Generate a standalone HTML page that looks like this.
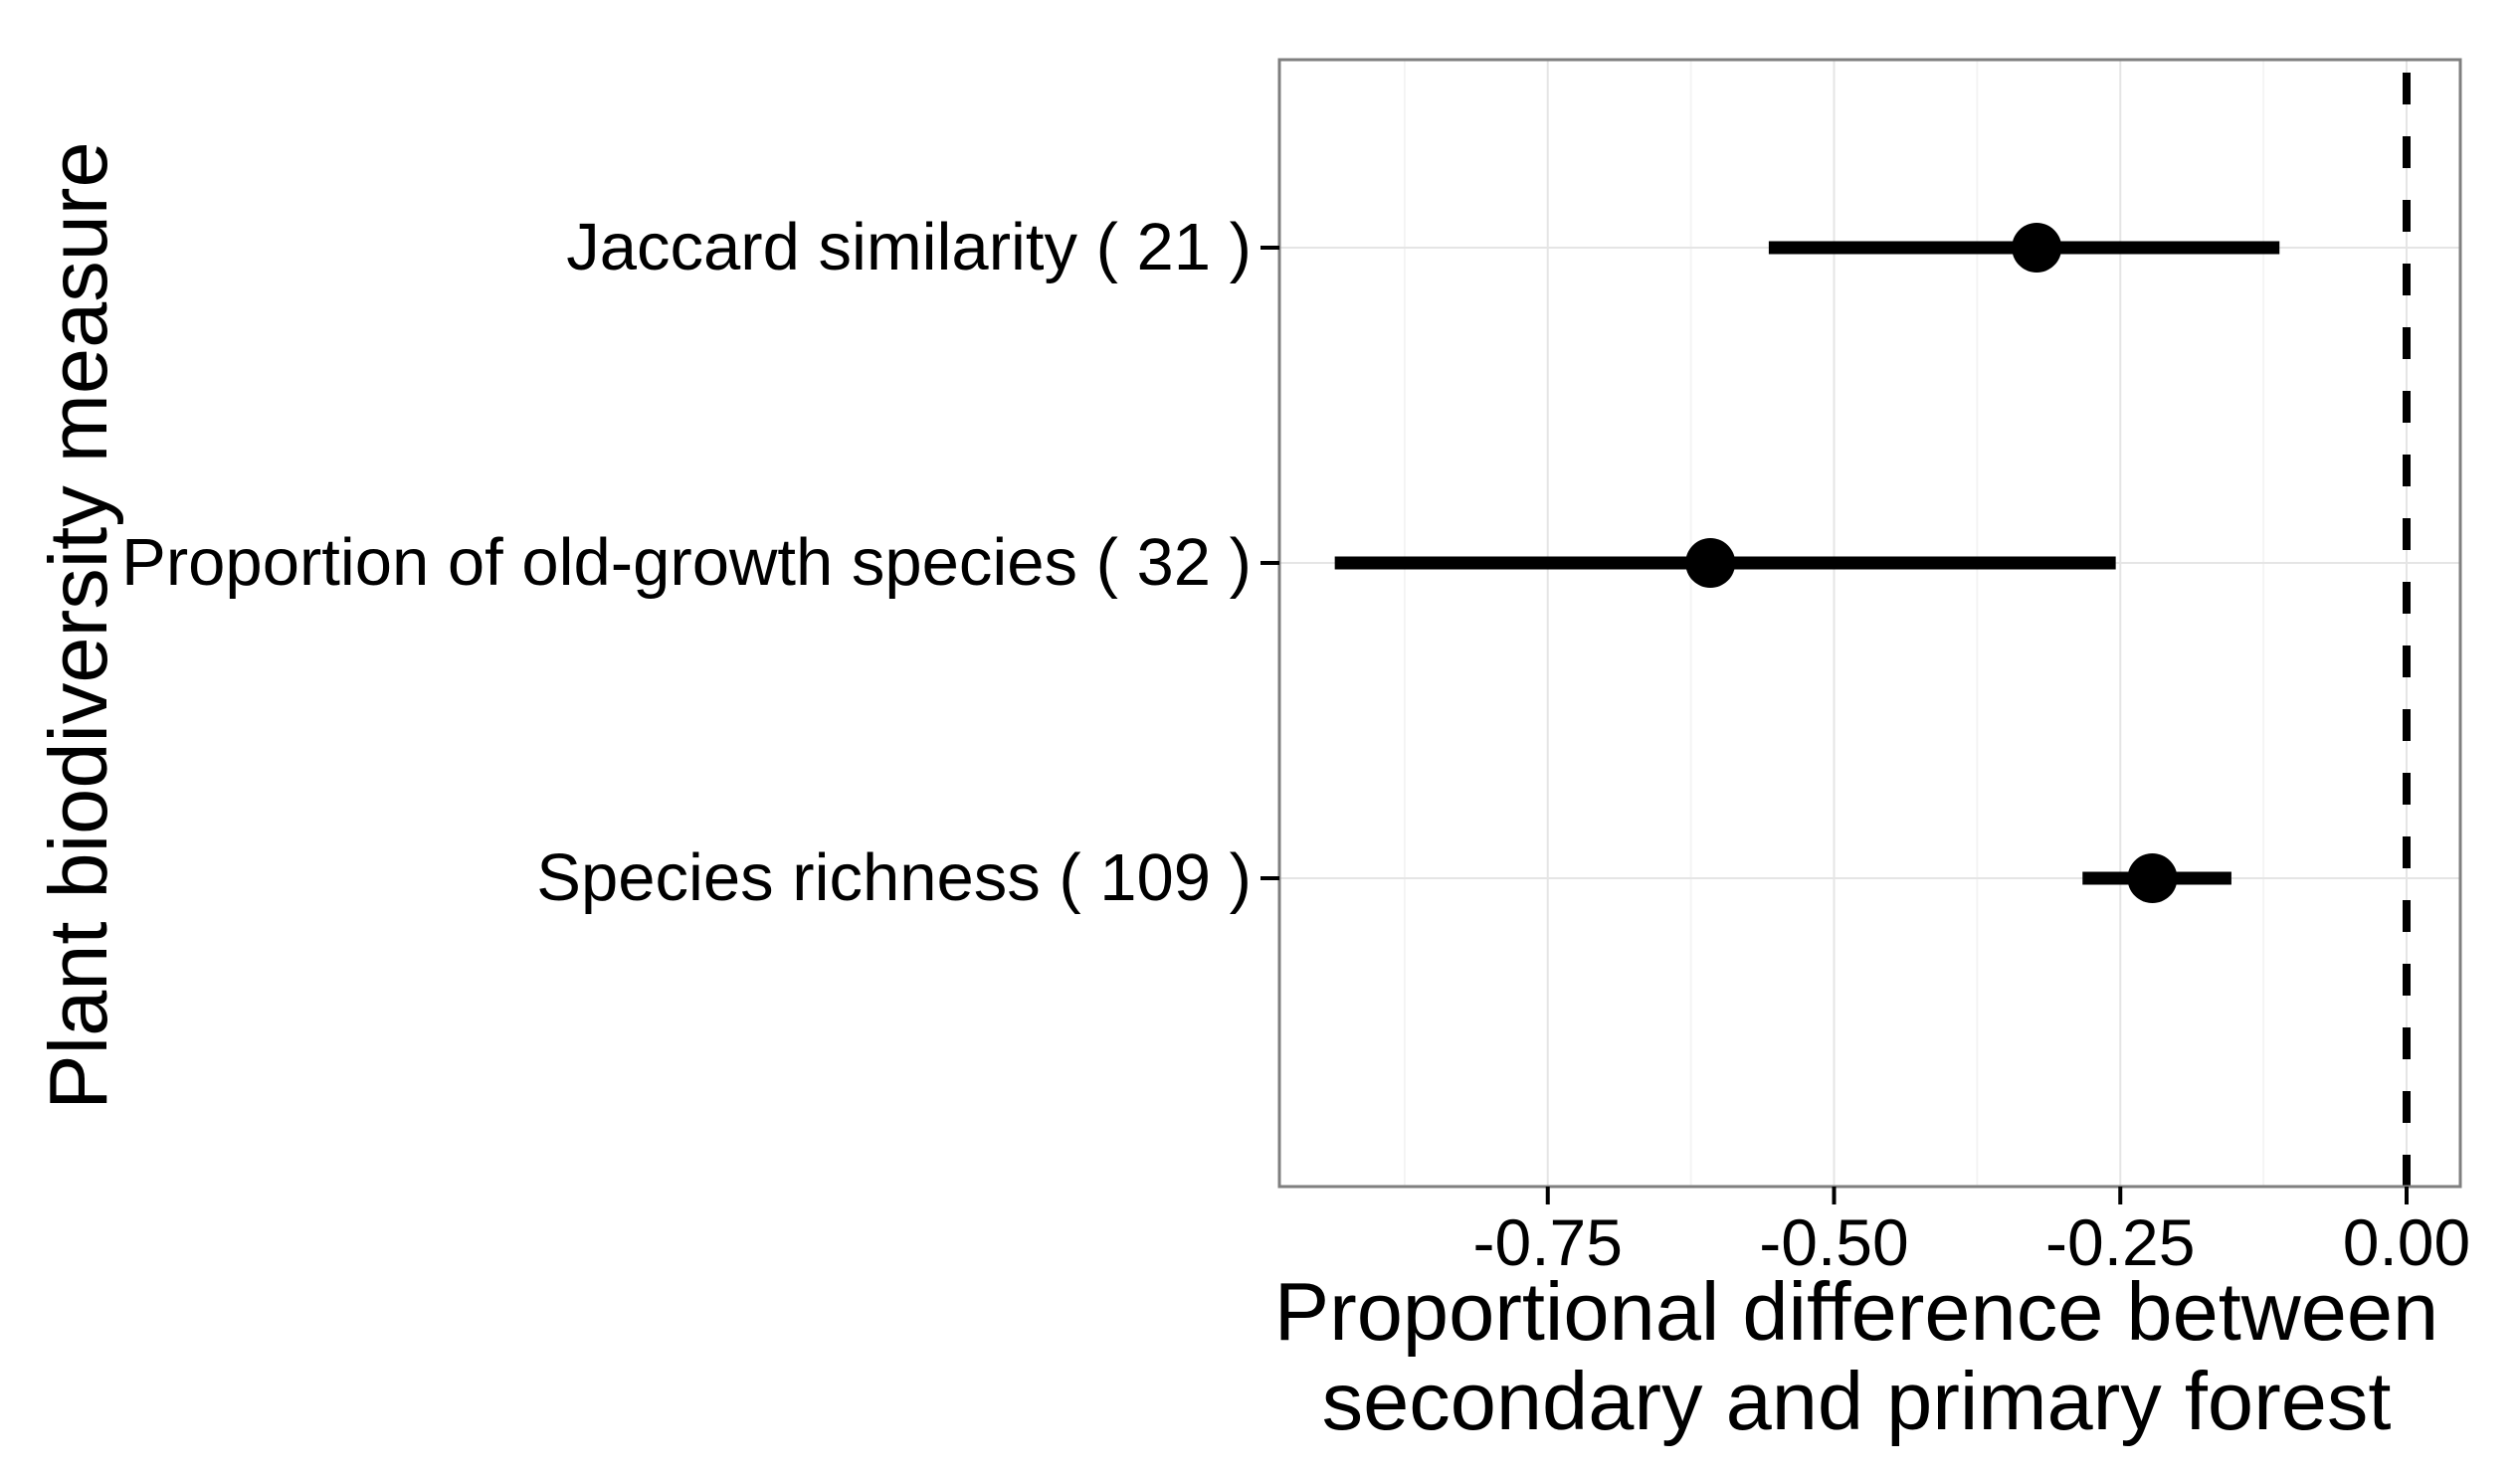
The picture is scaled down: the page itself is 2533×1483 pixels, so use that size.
<!DOCTYPE html>
<html><head><meta charset="utf-8"><style>
html,body{margin:0;padding:0;background:#fff;}
svg{display:block;font-family:"Liberation Sans",Arial,sans-serif;}
</style></head><body>
<svg id="chart" width="2533" height="1483" viewBox="0 0 2533 1483" xmlns="http://www.w3.org/2000/svg">
<rect width="2533" height="1483" fill="#fff"/>
<g id="grid"></g>
<g id="marks"></g>
<rect x="1286" y="60" width="1187" height="1133" fill="none" stroke="#7f7f7f" stroke-width="3"/>
<g id="axes"></g>
<text x="1866" y="1347" font-size="83" text-anchor="middle">Proportional difference between</text>
<text x="1866" y="1437" font-size="83" text-anchor="middle">secondary and primary forest</text>
<text transform="translate(107,629) rotate(-90)" font-size="83" text-anchor="middle">Plant biodiversity measure</text>
</svg>
<script>
const categories = ["Jaccard similarity ( 21 )", "Proportion of old-growth species ( 32 )", "Species richness ( 109 )"];
const estimates = [-0.323, -0.608, -0.222];
const lowerCI = [-0.557, -0.936, -0.283];
const upperCI = [-0.111, -0.254, -0.153];
const xTicks = [-0.75, -0.5, -0.25, 0];
const xTickLabels = ["-0.75", "-0.50", "-0.25", "0.00"];
const xMinor = [-0.875, -0.625, -0.375, -0.125];

const NS = "http://www.w3.org/2000/svg";
const x0 = 2419, pxPerUnit = 1151;
function xs(v){ return x0 + v * pxPerUnit; }
function ys(i){ return 249 + i * 317; }
function mk(tag, attrs, parent){
  const e = document.createElementNS(NS, tag);
  for (const k in attrs) e.setAttribute(k, attrs[k]);
  parent.appendChild(e);
  return e;
}
const grid = document.getElementById("grid");
const marks = document.getElementById("marks");
const axes = document.getElementById("axes");

xMinor.forEach(v => {
  const l = mk("line", {x1: xs(v), x2: xs(v), y1: 60, y2: 1193, stroke: "#f4f4f4", "stroke-width": 2}, grid);
  
  
});
xTicks.forEach((v, i) => {
  const l = mk("line", {x1: xs(v), x2: xs(v), y1: 60, y2: 1193, stroke: "#e5e5e5", "stroke-width": 2}, grid);
  
  
  const t = mk("line", {x1: xs(v), x2: xs(v), y1: 1193, y2: 1211, stroke: "#000", "stroke-width": 4}, axes);
  
  
  const tx = mk("text", {x: xs(v), y: 1272, "font-size": 66, "text-anchor": "middle"}, axes);
  tx.textContent = xTickLabels[i];
  
  
});
categories.forEach((c, i) => {
  const g = mk("line", {x1: 1286, x2: 2473, y1: ys(i), y2: ys(i), stroke: "#e5e5e5", "stroke-width": 2}, grid);
  
  
  const t = mk("line", {x1: 1267, x2: 1286, y1: ys(i), y2: ys(i), stroke: "#000", "stroke-width": 4}, axes);
  
  
  const tx = mk("text", {x: 1258, y: ys(i) + 22, "font-size": 67, "text-anchor": "end"}, axes);
  tx.textContent = c;
  
  
  const ci = mk("line", {x1: xs(lowerCI[i]), x2: xs(upperCI[i]), y1: ys(i), y2: ys(i), stroke: "#000", "stroke-width": 13}, marks);
  
  
  const p = mk("circle", {cx: xs(estimates[i]), cy: ys(i), r: 25, fill: "#000"}, marks);
  
  
});
const ref = mk("line", {x1: xs(0), x2: xs(0), y1: 73, y2: 1193, stroke: "#000", "stroke-width": 8, "stroke-dasharray": "32 32"}, marks);


</script>
</body></html>
